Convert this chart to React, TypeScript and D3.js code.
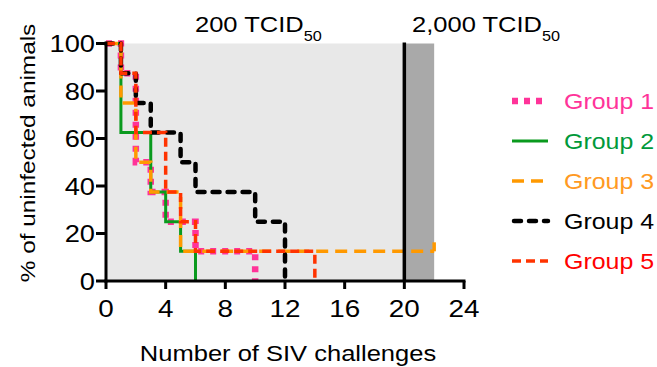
import React from "react";
import * as d3 from "d3";

const xTicks = [0, 4, 8, 12, 16, 20, 24];
const yTicks = [0, 20, 40, 60, 80, 100];

const group1X = [0, 1, 2, 3, 4, 6, 10];
const group1Y = [100, 87.5, 50, 37.5, 25, 12.5, 0];
const group2X = [0, 1, 3, 4, 5, 6];
const group2Y = [100, 62.5, 37.5, 25, 12.5, 0];
const group3X = [0, 1, 2, 3, 5, 22];
const group3Y = [100, 75, 50, 37.5, 12.5, 12.5];
const group4X = [0, 1, 2, 3, 5, 6, 10, 12];
const group4Y = [100, 87.5, 75, 62.5, 50, 37.5, 25, 0];
const group5X = [0, 1, 2, 4, 5, 6, 14];
const group5Y = [100, 87.5, 62.5, 37.5, 25, 12.5, 0];

const groupNames = ["Group 1", "Group 2", "Group 3", "Group 4", "Group 5"];
const lineColors = ["#ff3399", "#0a9a1e", "#ff9900", "#000000", "#ff3300"];
const textColors = ["#ff3399", "#00993a", "#ff9922", "#000000", "#ff0000"];
const dashes = ["6 6", "none", "12 7", "7 8", "9 5"];
const widths = [6.5, 3, 3.5, 4.5, 3.5];
const caps = ["butt", "butt", "butt", "round", "butt"];

const S = 1.16;
const FONT = "'Liberation Sans', Arial, sans-serif";

function T({ x, y, anchor = "start", size = 22, fill = "#000", rotate = false, children }: any) {
  return (
    <text
      transform={`translate(${x},${y})${rotate ? " rotate(-90)" : ""} scale(${S},1)`}
      textAnchor={anchor}
      fontSize={size}
      fontFamily={FONT}
      fill={fill}
    >
      {children}
    </text>
  );
}

export default function App() {
  const x = d3.scaleLinear().domain([0, 24]).range([106, 464]);
  const y = d3.scaleLinear().domain([0, 100]).range([281, 43.5]);
  const line = d3
    .line<[number, number]>()
    .x((d) => x(d[0]))
    .y((d) => y(d[1]))
    .curve(d3.curveStepAfter);

  const groups = [
    [group1X, group1Y],
    [group2X, group2Y],
    [group3X, group3Y],
    [group4X, group4Y],
    [group5X, group5Y],
  ];

  return (
    <svg
      width={657}
      height={367}
      style={{ position: "absolute", left: 0, top: 0, background: "#fff" }}
    >
      {/* backgrounds */}
      <rect x={x(0)} y={y(100)} width={x(20) - x(0)} height={y(0) - y(100)} fill="#e8e8e8" />
      <rect x={x(20)} y={y(100)} width={x(22) - x(20)} height={y(0) - y(100)} fill="#a9a9a9" />

      {/* survival curves */}
      {groups.map(([gx, gy], i) => (
        <path
          key={i}
          d={line(gx.map((v, j) => [v, gy[j]] as [number, number])) || ""}
          fill="none"
          stroke={lineColors[i]}
          strokeWidth={widths[i]}
          strokeDasharray={dashes[i]}
          strokeLinecap={caps[i] as any}
        />
      ))}
      {/* censor tick for group 3 */}
      <line
        x1={x(group3X[group3X.length - 1])}
        x2={x(group3X[group3X.length - 1])}
        y1={y(group3Y[group3Y.length - 1])}
        y2={y(group3Y[group3Y.length - 1]) - 9}
        stroke={lineColors[2]}
        strokeWidth={3.5}
      />

      {/* dose change line */}
      <line x1={x(20)} x2={x(20)} y1={y(100) - 1} y2={y(0)} stroke="#000" strokeWidth={3.5} />

      {/* axes */}
      <line x1={x(0)} x2={x(0)} y1={y(100) - 1.5} y2={y(0) + 1.5} stroke="#000" strokeWidth={3} />
      <line x1={x(0) - 1.5} x2={x(24) + 1.5} y1={y(0)} y2={y(0)} stroke="#000" strokeWidth={3} />
      {yTicks.map((t) => (
        <g key={"y" + t}>
          <line x1={x(0) - 10} x2={x(0)} y1={y(t)} y2={y(t)} stroke="#000" strokeWidth={3} />
          <T x={x(0) - 11} y={y(t) + 8.5} anchor="end" size={23.5}>
            {t}
          </T>
        </g>
      ))}
      {xTicks.map((t) => (
        <g key={"x" + t}>
          <line x1={x(t)} x2={x(t)} y1={y(0)} y2={y(0) + 8} stroke="#000" strokeWidth={3} />
          <T x={x(t)} y={y(0) + 36} anchor="middle" size={24}>
            {t}
          </T>
        </g>
      ))}

      {/* axis titles */}
      <T x={288} y={361} anchor="middle" size={22}>
        Number of SIV challenges
      </T>
      <T x={35} y={153} anchor="middle" size={21} rotate>
        % of uninfected animals
      </T>

      {/* top labels */}
      <T x={195} y={32} size={22}>
        200 TCID
        <tspan fontSize={14} dy={9}>
          50
        </tspan>
      </T>
      <T x={412} y={32} size={22}>
        2,000 TCID
        <tspan fontSize={14} dy={9}>
          50
        </tspan>
      </T>

      {/* legend */}
      {groupNames.map((g, i) => {
        const cy = 101 + i * 40;
        return (
          <g key={g}>
            <line
              x1={i === 3 ? 514 : 512}
              x2={548}
              y1={cy}
              y2={cy}
              stroke={lineColors[i]}
              strokeWidth={widths[i]}
              strokeDasharray={dashes[i]}
              strokeLinecap={caps[i] as any}
            />
            <T x={564} y={cy + 7.5} size={21.5} fill={textColors[i]}>
              {g}
            </T>
          </g>
        );
      })}
    </svg>
  );
}
